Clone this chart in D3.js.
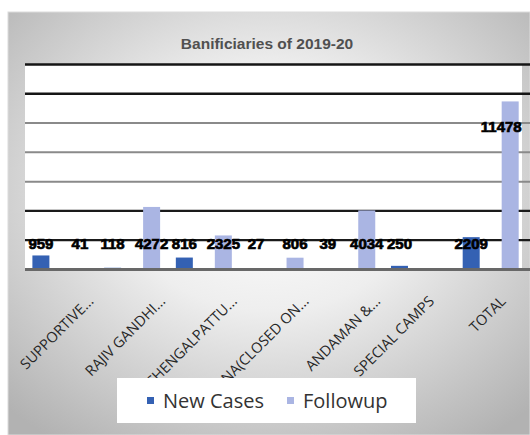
<!DOCTYPE html>
<html>
<head>
<meta charset="utf-8">
<script src="https://cdn.jsdelivr.net/npm/d3@7"></script>
<style>
  html, body { margin: 0; padding: 0; background: #ffffff; }
  svg { display: block; }
</style>
</head>
<body>
<svg id="chart" width="530" height="435"></svg>
<script>
// ---- data ----
const title = "Banificiaries of 2019-20";
const categories = ["SUPPORTIVE...", "RAJIV GANDHI...", "CHENGALPATTU...", "ANNA(CLOSED ON...", "ANDAMAN &...", "SPECIAL CAMPS", "TOTAL"];
const seriesNames = ["New Cases", "Followup"];
const newCases = [959, 118, 816, 27, 39, 250, 2209];
const followup = [41, 4272, 2325, 806, 4034, 0, 11478];
const yTicks = [0, 2000, 4000, 6000, 8000, 10000, 12000, 14000];

// ---- layout ----
const W = 530, H = 435;
const plot = { left: 24, right: 526, top: 64.5, bottom: 269.5, gridRight: 530 };
const colors = { "New Cases": "#3461b3", "Followup": "#aab5e3" };

const svg = d3.select("#chart");
const defs = svg.append("defs");
const grad = defs.append("radialGradient").attr("id", "bg")
  .attr("cx", "50%").attr("cy", "42%").attr("r", "72%");
grad.append("stop").attr("offset", "0%").attr("stop-color", "#ffffff");
grad.append("stop").attr("offset", "40%").attr("stop-color", "#eeeeee");
grad.append("stop").attr("offset", "100%").attr("stop-color", "#b2b2b2");

// panel
svg.append("rect").attr("x", 8).attr("y", 12).attr("width", W - 8).attr("height", H - 12)
  .attr("fill", "url(#bg)").attr("stroke", "#dcdcdc").attr("stroke-width", 1);

// plot area
svg.append("rect").attr("x", 25).attr("y", plot.top).attr("width", 497).attr("height", plot.bottom - plot.top)
  .attr("fill", "#ffffff");

// title
svg.append("text").attr("x", 267).attr("y", 49).attr("text-anchor", "middle")
  .attr("font-family", "'Liberation Sans', Arial, sans-serif").attr("font-weight", "bold")
  .attr("font-size", 15.5).attr("fill", "#505050").text(title);

// scales
const x0 = d3.scaleBand().domain(categories).range([plot.left, plot.right]).paddingInner(0).paddingOuter(0);
const x1 = d3.scaleBand().domain(seriesNames).range([8.4, 64.4]).paddingInner(0.564).paddingOuter(0);
const y = d3.scaleLinear().domain([0, 14000]).range([plot.bottom, plot.top]);

// gridlines
function gridStyle(v) {
  if (v === 0) return { c: "#686868", w: 3 };
  if (v >= 12000) return { c: "#151515", w: 2.5 };
  if (v >= 6000) return { c: "#8a8a8a", w: 2 };
  return { c: "#1a1a1a", w: 2.2 };
}
svg.append("g").selectAll("line").data(yTicks.filter(v => v !== 0)).join("line")
  .attr("x1", 25).attr("x2", plot.gridRight)
  .attr("y1", d => y(d)).attr("y2", d => y(d))
  .attr("stroke", d => gridStyle(d).c).attr("stroke-width", d => gridStyle(d).w);

// bars
const rows = categories.map((c, i) => ({ cat: c, values: [
  { s: "New Cases", v: newCases[i] }, { s: "Followup", v: followup[i] } ] }));

const groups = svg.append("g").selectAll("g").data(rows).join("g")
  .attr("transform", d => `translate(${x0(d.cat)},0)`);
groups.selectAll("rect").data(d => d.values).join("rect")
  .attr("x", d => x1(d.s)).attr("width", x1.bandwidth())
  .attr("y", d => y(d.v)).attr("height", d => y(0) - y(d.v))
  .attr("fill", d => colors[d.s]);

// baseline
svg.append("line").attr("x1", 25).attr("x2", plot.gridRight)
  .attr("y1", y(0)).attr("y2", y(0))
  .attr("stroke", gridStyle(0).c).attr("stroke-width", gridStyle(0).w);

// data labels
const labelRowValue = 1800;
groups.selectAll("text").data(d => d.values.filter(e => e.v > 0)).join("text")
  .attr("x", d => d.v > 6000 ? x1(d.s) + x1.bandwidth() + 3 : x1(d.s) + x1.bandwidth() / 2)
  .attr("y", d => d.v > 6000 ? y(d.v) + 31 : y(labelRowValue) + 5.5)
  .attr("text-anchor", d => d.v > 6000 ? "end" : "middle")
  .attr("font-family", "'Liberation Sans', Arial, sans-serif").attr("font-weight", "bold")
  .attr("font-size", 15).attr("fill", "#000000")
  .attr("stroke", "#000000").attr("stroke-width", 0.7)
  .text(d => d.v);

// x axis labels
const xAxis = d3.axisBottom(x0).tickSize(0).tickPadding(0);
const gx = svg.append("g").attr("transform", `translate(0,${y(0)})`).call(xAxis);
gx.select(".domain").remove();
gx.selectAll("text")
  .attr("font-family", "'Open Sans', 'Liberation Sans', sans-serif")
  .attr("font-size", 14.5).attr("fill", "#262626")
  .attr("text-anchor", "end")
  .attr("y", 0).attr("dy", "0.35em")
  .attr("transform", d => `translate(${d.endsWith("...") ? 31 : 13},29) rotate(-45)`);

// legend
const lg = svg.append("g");
lg.append("rect").attr("x", 117).attr("y", 378).attr("width", 299).attr("height", 45).attr("fill", "#ffffff");
const legendX = [147, 287];
seriesNames.forEach((s, i) => {
  lg.append("rect").attr("x", legendX[i]).attr("y", 397).attr("width", 7).attr("height", 7).attr("fill", colors[s]);
  lg.append("text").attr("x", legendX[i] + 16).attr("y", 408)
    .attr("font-family", "'Open Sans', 'Liberation Sans', sans-serif")
    .attr("font-size", 20).attr("fill", "#333333").text(s);
});
</script>
</body>
</html>
